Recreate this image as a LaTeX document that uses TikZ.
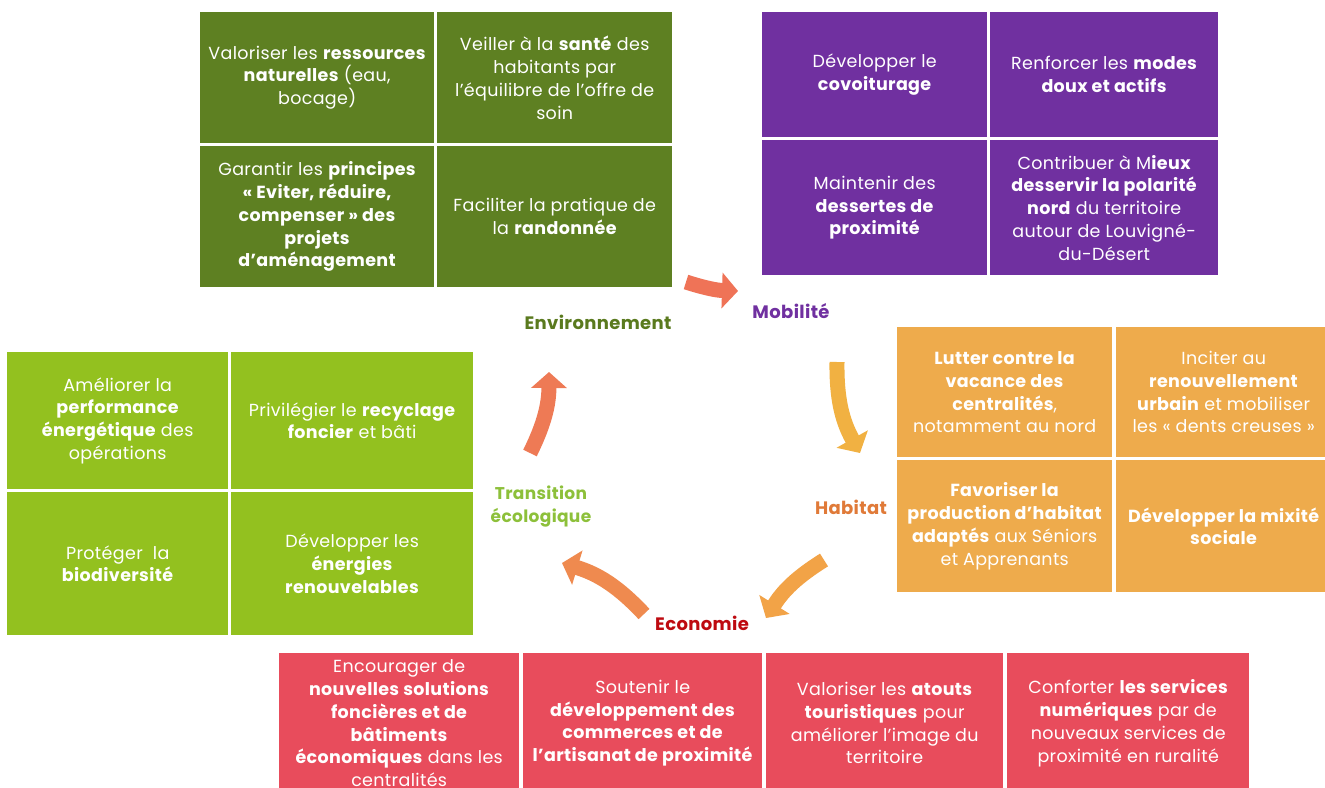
\documentclass[tikz,border=0pt]{standalone}
\usepackage{fontspec}
\setmainfont{Poppins}[LetterSpace=2]
\usetikzlibrary{arrows.meta}

\definecolor{envgreen}{HTML}{5E8022}
\definecolor{mobpurple}{HTML}{7030A0}
\definecolor{haborange}{HTML}{EEAB4C}
\definecolor{ecogreen}{HTML}{93C11F}
\definecolor{ecored}{HTML}{E84C5C}
\definecolor{lblenv}{HTML}{5A7A1E}
\definecolor{lblhab}{HTML}{E07A38}
\definecolor{lbleco}{HTML}{BE0A10}
\definecolor{lbltrans}{HTML}{8DC03A}
\definecolor{arrA}{HTML}{EF7357}
\definecolor{arrB}{HTML}{F1B142}
\definecolor{arrC}{HTML}{F2A347}
\definecolor{arrD}{HTML}{EF8A4F}
\definecolor{arrE}{HTML}{EE7A55}

\tikzset{
  cellbox/.style={rectangle, anchor=north west, inner sep=0pt, align=center,
    text=white, font=\fontsize{17.5}{22.8}\selectfont},
  theme/.style={font=\fontsize{18}{23}\selectfont\bfseries, align=center},
  cyclearrow/.style={line width=15pt, -{Triangle[length=16pt,width=35pt]}},
}

\begin{document}
\begin{tikzpicture}[x=1pt,y=-1pt]
\path[use as bounding box, clip] (0,0) rectangle (1325,787);
\fill[white] (0,0) rectangle (1325,787);

% Environnement
\node[cellbox, fill=envgreen, minimum width=234pt, minimum height=131pt] (env1) at (200,12)
  {Valoriser les \textbf{ressources}\\ \textbf{naturelles} (eau,\\ bocage)};
\node[cellbox, fill=envgreen, minimum width=235pt, minimum height=131pt] (env2) at (437,12)
  {Veiller à la \textbf{santé} des\\ habitants par\\ l’équilibre de l’offre de\\ soin};
\node[cellbox, fill=envgreen, minimum width=234pt, minimum height=141pt] (env3) at (200,146)
  {Garantir les \textbf{principes}\\ \textbf{« Eviter, réduire,}\\ \textbf{compenser » des}\\ \textbf{projets}\\ \textbf{d’aménagement}};
\node[cellbox, fill=envgreen, minimum width=235pt, minimum height=141pt] (env4) at (437,146)
  {Faciliter la pratique de\\ la \textbf{randonnée}};

% Mobilite
\node[cellbox, fill=mobpurple, minimum width=225pt, minimum height=125pt] (mob1) at (762,12)
  {Développer le\\ \textbf{covoiturage}};
\node[cellbox, fill=mobpurple, minimum width=228pt, minimum height=125pt] (mob2) at (990,12)
  {Renforcer les \textbf{modes}\\ \textbf{doux et actifs}};
\node[cellbox, fill=mobpurple, minimum width=225pt, minimum height=135pt] (mob3) at (762,140)
  {Maintenir des\\ \textbf{dessertes de}\\ \textbf{proximité}};
\node[cellbox, fill=mobpurple, minimum width=228pt, minimum height=135pt] (mob4) at (990,140)
  {Contribuer à M\textbf{ieux}\\ \textbf{desservir la polarité}\\ \textbf{nord} du territoire\\ autour de Louvigné-\\ du-Désert};

% Habitat
\node[cellbox, fill=haborange, minimum width=215pt, minimum height=130pt] (hab1) at (897,327)
  {\textbf{Lutter contre la}\\ \textbf{vacance des}\\ \textbf{centralités},\\ notamment au nord};
\node[cellbox, fill=haborange, minimum width=215pt, minimum height=130pt] (hab2) at (1116,327)
  {Inciter au\\ \textbf{renouvellement}\\ \textbf{urbain} et mobiliser\\ les « dents creuses »};
\node[cellbox, fill=haborange, minimum width=215pt, minimum height=132pt] (hab3) at (897,460)
  {\textbf{Favoriser la}\\ \textbf{production d’habitat}\\ \textbf{adaptés} aux Séniors\\ et Apprenants};
\node[cellbox, fill=haborange, minimum width=215pt, minimum height=132pt] (hab4) at (1116,460)
  {\textbf{Développer la mixité}\\ \textbf{sociale}};

% Transition ecologique
\node[cellbox, fill=ecogreen, minimum width=221pt, minimum height=137pt] (tra1) at (7,352)
  {Améliorer la\\ \textbf{performance}\\ \textbf{énergétique} des\\ opérations};
\node[cellbox, fill=ecogreen, minimum width=242pt, minimum height=137pt] (tra2) at (231,352)
  {Privilégier le \textbf{recyclage}\\ \textbf{foncier} et bâti};
\node[cellbox, fill=ecogreen, minimum width=221pt, minimum height=143pt] (tra3) at (7,492)
  {Protéger~ la\\ \textbf{biodiversité}};
\node[cellbox, fill=ecogreen, minimum width=242pt, minimum height=143pt] (tra4) at (231,492)
  {Développer les\\ \textbf{énergies}\\ \textbf{renouvelables}};

% Economie
\node[cellbox, fill=ecored, minimum width=240pt, minimum height=140pt] (eco1) at (279,653)
  {Encourager de\\ \textbf{nouvelles solutions}\\ \textbf{foncières et de}\\ \textbf{bâtiments}\\ \textbf{économiques} dans les\\ centralités};
\node[cellbox, fill=ecored, minimum width=239pt, minimum height=140pt] (eco2) at (523,653)
  {Soutenir le\\ \textbf{développement des}\\ \textbf{commerces et de}\\ \textbf{l’artisanat de proximité}};
\node[cellbox, fill=ecored, minimum width=237pt, minimum height=140pt] (eco3) at (766,653)
  {Valoriser les \textbf{atouts}\\ \textbf{touristiques} pour\\ améliorer l’image du\\ territoire};
\node[cellbox, fill=ecored, minimum width=242pt, minimum height=140pt] (eco4) at (1007,653)
  {Conforter \textbf{les services}\\ \textbf{numériques} par de\\ nouveaux services de\\ proximité en ruralité};

% Theme labels
\node[theme, text=lblenv] (lenv) at (598,322) {Environnement};
\node[theme, text=mobpurple] (lmob) at (791,311) {Mobilité};
\node[theme, text=lblhab] (lhab) at (851,507) {Habitat};
\node[theme, text=lbleco] (leco) at (702,623) {Economie};
\node[theme, text=lbltrans, font=\fontsize{17}{23}\selectfont\bfseries] (ltra) at (541,507) {Transition\\ écologique};

% Cycle arrows
\coordinate (a1s) at (686,282);  \coordinate (a1e) at (738,291);
\coordinate (a2s) at (837,362);  \coordinate (a2e) at (860,453);
\coordinate (a3s) at (824,560);  \coordinate (a3e) at (766,618);
\coordinate (a4s) at (644,614);  \coordinate (a4e) at (562,563);
\coordinate (a5s) at (530,453);  \coordinate (a5e) at (549,372);
\draw[cyclearrow, arrA] (a1s) to[bend right=8] (a1e);
\draw[cyclearrow, arrB] (a2s) to[bend right=15] (a2e);
\draw[cyclearrow, arrC] (a3s) to[bend right=13] (a3e);
\draw[cyclearrow, arrD] (a4s) to[bend right=15] (a4e);
\draw[cyclearrow, arrE] (a5s) to[bend right=13] (a5e);
\end{tikzpicture}
\end{document}
